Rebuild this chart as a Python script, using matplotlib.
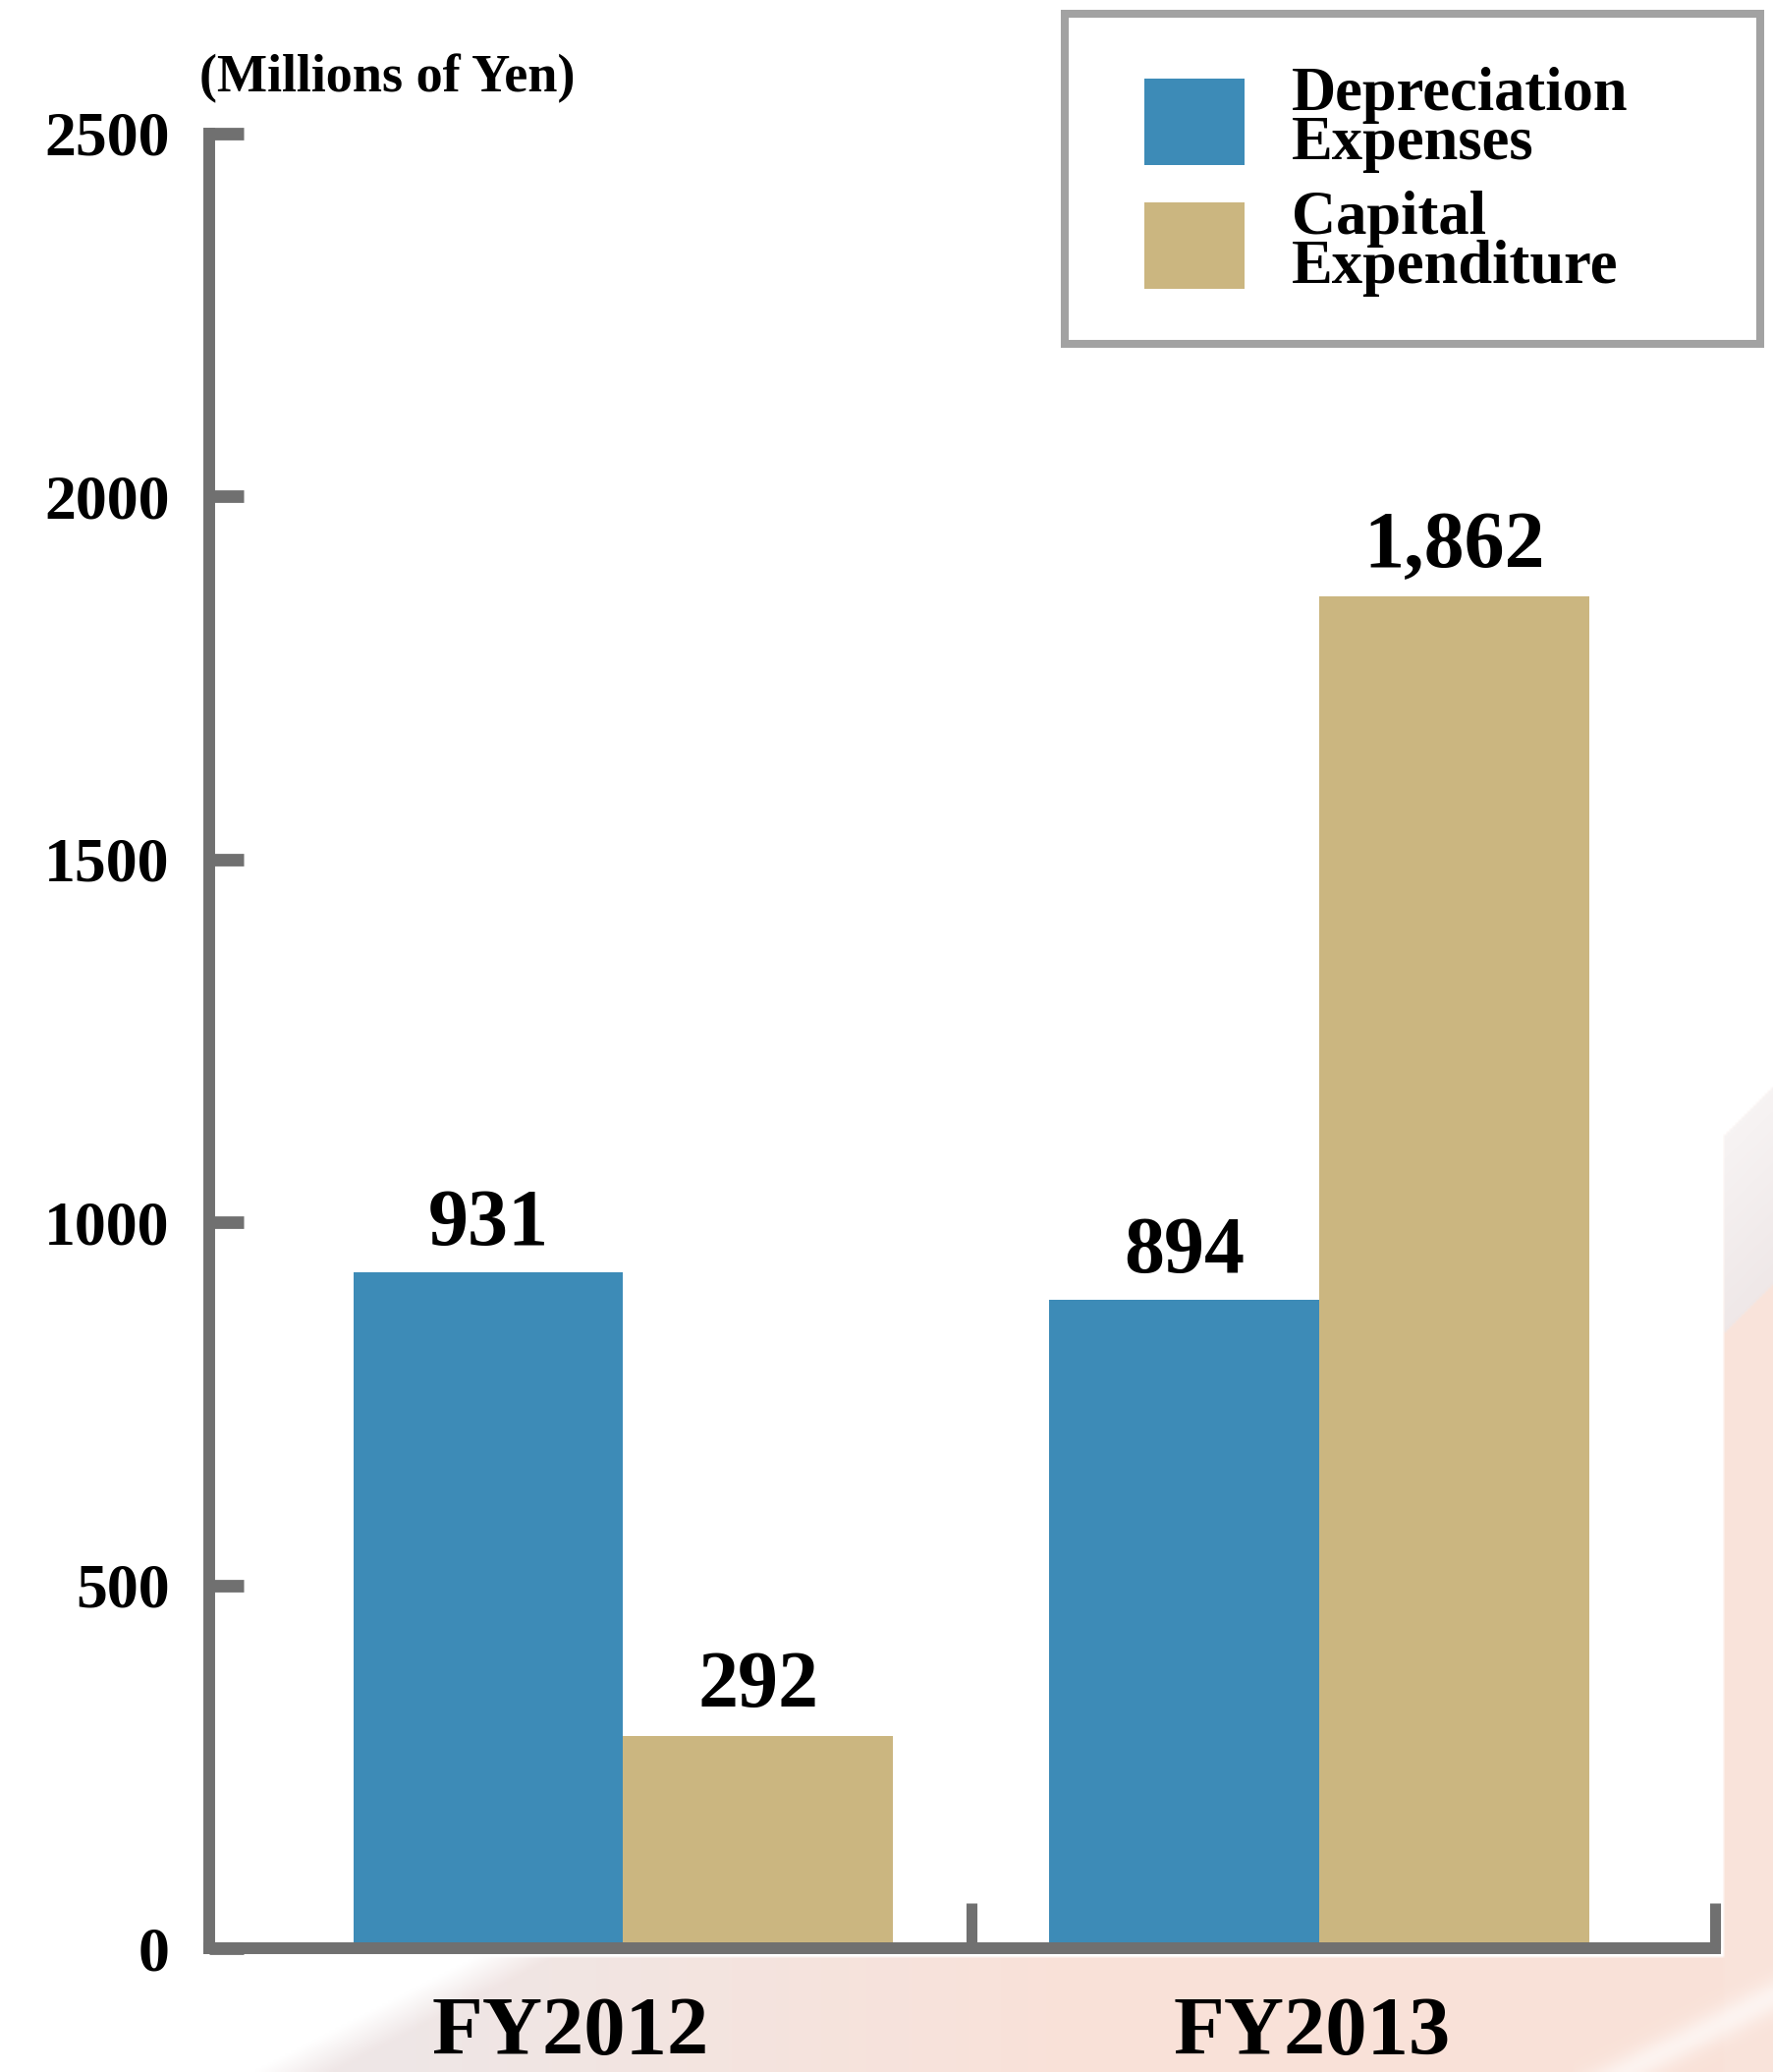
import numpy as np
import matplotlib
matplotlib.use("Agg")
import matplotlib.pyplot as plt
from matplotlib.patches import Patch, Rectangle

# ---------------- data ----------------
categories = ["FY2012", "FY2013"]
series_names = ["Depreciation\nExpenses", "Capital\nExpenditure"]
depreciation = [931, 894]
capex = [292, 1862]
yticks = [0, 500, 1000, 1500, 2000, 2500]
unit_label = "(Millions of Yen)"

# ---------------- style ----------------
W, H = 1806, 2109
DPI = 100
BLUE = "#3d8bb7"
TAN = "#cbb680"
AXIS = "#707070"
FRAME = "#a2a2a2"
FONT = ["Liberation Serif", "DejaVu Serif"]

plt.rcParams["font.family"] = FONT
plt.rcParams["font.weight"] = "bold"

fig = plt.figure(figsize=(W / DPI, H / DPI), dpi=DPI, facecolor="white")

# ---- decorative soft background (bottom and right edge) ----
bg = fig.add_axes([0, 0, 1, 1], zorder=-5)
step = 3
xs = np.arange(0, W, step)
ys = np.arange(0, H, step)
X, Y = np.meshgrid(xs, ys)
img = np.ones((len(ys), len(xs), 4))
t = np.clip((X - 400) / 700.0, 0, 1)
c_left = np.array([0.935, 0.90, 0.90])
c_right = np.array([0.98, 0.88, 0.84])
for k in range(3):
    img[..., k] = c_left[k] * (1 - t) + c_right[k] * t
alpha = np.zeros(X.shape)
bottom = (Y > 1990)
edge = 484 - (Y - 1990) * (484 - 253) / (2109 - 1990)
alpha[bottom] = np.clip((X[bottom] - edge[bottom]) / 80.0, 0, 1) * 0.95
# right strip
right = (X > 1752)
top_edge = 1158 - (X - 1751) * (1158 - 1104) / 55.0
rs = right & (Y > top_edge)
ramp = np.clip((Y[rs] - top_edge[rs]) / 200.0, 0, 1)
alpha[rs] = 0.45 + 0.45 * ramp
g = rs & (Y < top_edge + 200)
for k, cv in enumerate([0.93, 0.90, 0.90]):
    img[..., k][g] = cv
# soft whitish diagonal streak at the bottom right corner
d = (Y - 2109) + (X - 1650) * (79.0 / 156.0)
soft = np.exp(-(d / 18.0) ** 2)
alpha = alpha * (1 - 0.6 * soft * (X > 1600))
img[..., 3] = alpha
bg.imshow(img, extent=(0, W, H, 0), aspect="auto", interpolation="bilinear")
bg.set_xlim(0, W)
bg.set_ylim(H, 0)
bg.axis("off")

# ---------------- main axes ----------------
left_px, right_px, top_px, bot_px = 213, 1746, 136, 1983
ax = fig.add_axes([left_px / W, (H - bot_px) / H,
                   (right_px - left_px) / W, (bot_px - top_px) / H])
ax.set_facecolor("white")

x = np.arange(len(categories))
bw = 0.388
ax.bar(x - bw, depreciation, width=bw, align="edge", color=BLUE, zorder=2)
ax.bar(x, capex, width=bw, align="edge", color=TAN, zorder=2)

xl = (-0.5949, 1.5688)
ax.set_xlim(*xl)
ax.set_ylim(0, 2500)

for s in ["top", "right"]:
    ax.spines[s].set_visible(False)
for s in ["left", "bottom"]:
    ax.spines[s].set_color(AXIS)
    ax.spines[s].set_linewidth(8.6)
    ax.spines[s].set_zorder(3)

ax.set_yticks(yticks)
ax.set_yticklabels([str(v) for v in yticks])
ax.tick_params(axis="y", direction="in", length=25, width=9.2, color=AXIS,
               pad=29, labelsize=46)
ax.set_xticks([0.5, xl[1]])
ax.set_xticklabels(["", ""])
ax.tick_params(axis="x", direction="in", length=33, width=8.0, color=AXIS)

def fmt(v):
    return f"{v:,}"

for i in range(len(categories)):
    ax.annotate(fmt(depreciation[i]), (x[i] - bw / 2, depreciation[i]),
                xytext=(0, 20), textcoords="offset points",
                ha="center", va="baseline", fontsize=59, fontweight="bold")
    ax.annotate(fmt(capex[i]), (x[i] + bw / 2, capex[i]),
                xytext=(0, 22), textcoords="offset points",
                ha="center", va="baseline", fontsize=59, fontweight="bold")

cat_offsets_pt = [-39, -5]
for i, c in enumerate(categories):
    ax.annotate(c, (x[i], 0), xytext=(cat_offsets_pt[i], -78),
                textcoords="offset points", ha="center", va="baseline",
                fontsize=61, fontweight="bold", annotation_clip=False)

fig.text(203 / W, 1 - 93 / H, unit_label, ha="left", va="baseline",
         fontsize=39, fontweight="bold")

# ---------------- legend ----------------
fig.add_artist(Rectangle((1084 / W, 1 - 350 / H), (1792 - 1084) / W,
                         (350 - 14) / H, transform=fig.transFigure,
                         facecolor="white", edgecolor=FRAME, linewidth=5.8,
                         zorder=4))
handles = [Patch(facecolor=BLUE, edgecolor="none"),
           Patch(facecolor=TAN, edgecolor="none")]
leg = fig.legend(handles, series_names, loc="upper left",
                 bbox_to_anchor=(1165 / W, 1 - 68 / H),
                 bbox_transform=fig.transFigure, frameon=False,
                 prop={"family": FONT, "weight": "bold", "size": 45},
                 handlelength=1.63, handleheight=1.79, handletextpad=0.77,
                 labelspacing=0.3, borderpad=0, borderaxespad=0)
leg.set_zorder(5)
for tx in leg.get_texts():
    tx.set_linespacing(0.81)

fig.savefig("out.png", dpi=DPI, facecolor="white")
